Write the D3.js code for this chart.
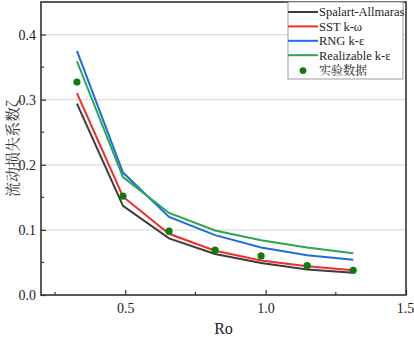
<!DOCTYPE html>
<html>
<head>
<meta charset="utf-8">
<script src="https://cdn.jsdelivr.net/npm/d3@7"></script>
<style>
  html, body { margin: 0; padding: 0; background: #fff; }
</style>
</head>
<body>
<div id="chart"></div>
<script>
// --- data ---
const ro = [0.328, 0.492, 0.656, 0.820, 0.984, 1.148, 1.312];
const spalart = [0.294, 0.137, 0.087, 0.063, 0.049, 0.039, 0.034];
const sst = [0.310, 0.151, 0.094, 0.068, 0.053, 0.044, 0.038];
const rng = [0.375, 0.188, 0.120, 0.092, 0.073, 0.061, 0.054];
const realizable = [0.359, 0.181, 0.126, 0.099, 0.084, 0.073, 0.064];
const experiment = [0.327, 0.152, 0.098, 0.069, 0.060, 0.045, 0.038];
const seriesNames = ["Spalart-Allmaras", "SST k-ω", "RNG k-ε", "Realizable k-ε"];
const expName = "实验数据";
const xTicks = [0.5, 1.0, 1.5];
const yTicks = [0.0, 0.1, 0.2, 0.3, 0.4];

const W = 414, H = 338;
const m = { left: 41, right: 8, top: 2, bottom: 43 };
const colors = ["#3c3c3c", "#f22b2b", "#1a6ee0", "#2aa64e"];
const dotColor = "#0b7d0b";
const SERIF = "'Liberation Serif', serif";
const CJK = "'Noto Serif CJK SC', 'Liberation Serif', serif";

const svg = d3.select("#chart").append("svg")
  .attr("width", W).attr("height", H);

const x = d3.scaleLinear().domain([0.2, 1.5]).range([m.left, W - m.right]);
const y = d3.scaleLinear().domain([0, 0.45]).range([H - m.bottom, m.top]);

// gridlines
svg.append("g")
  .selectAll("line")
  .data(yTicks.filter(d => d > 0))
  .join("line")
    .attr("x1", x(0.2)).attr("x2", x(1.5))
    .attr("y1", d => y(d)).attr("y2", d => y(d))
    .attr("stroke", "#dcdcdc").attr("stroke-width", 1.2);

// axes (inward ticks)
const xAxis = svg.append("g")
  .attr("transform", `translate(0,${y(0)})`)
  .call(d3.axisBottom(x).tickValues(xTicks).tickFormat(d3.format(".1f")).tickSize(-5).tickPadding(8));
xAxis.append("g").selectAll("line")
  .data([0.25, 0.75, 1.25])
  .join("line")
    .attr("x1", d => x(d)).attr("x2", d => x(d))
    .attr("y1", 0).attr("y2", -3)
    .attr("stroke", "#333").attr("stroke-width", 1.2);

const yAxis = svg.append("g")
  .attr("transform", `translate(${x(0.2)},0)`)
  .call(d3.axisLeft(y).tickValues(yTicks).tickFormat(d3.format(".1f")).tickSize(-5).tickPadding(5));
yAxis.append("g").selectAll("line")
  .data([0.05, 0.15, 0.25, 0.35])
  .join("line")
    .attr("x1", 0).attr("x2", 3)
    .attr("y1", d => y(d)).attr("y2", d => y(d))
    .attr("stroke", "#333").attr("stroke-width", 1.2);

[xAxis, yAxis].forEach(a => {
  a.attr("font-family", SERIF).attr("font-size", 14);
  a.select(".domain").remove();
  a.selectAll(".tick line").attr("stroke", "#333").attr("stroke-width", 1.2);
  a.selectAll(".tick text")
    .attr("fill", "#222")
    .style("font-size", "14px")
    .style("font-family", SERIF);
});
xAxis.selectAll(".tick text").filter(d => d === 1.5).attr("dx", "-1");

// frame
svg.append("rect")
  .attr("x", x(0.2)).attr("y", y(0.45))
  .attr("width", x(1.5) - x(0.2)).attr("height", y(0) - y(0.45))
  .attr("fill", "none").attr("stroke", "#333").attr("stroke-width", 1.6);

// lines
const line = d3.line().x((d, i) => x(ro[i])).y(d => y(d));
[spalart, sst, rng, realizable].forEach((s, k) => {
  svg.append("path")
    .datum(s)
    .attr("d", line)
    .attr("fill", "none")
    .attr("stroke", colors[k])
    .attr("stroke-width", 2);
});

// experiment dots
svg.append("g").selectAll("circle")
  .data(experiment)
  .join("circle")
    .attr("cx", (d, i) => x(ro[i]))
    .attr("cy", d => y(d))
    .attr("r", 3.6)
    .attr("fill", dotColor);

// axis titles
svg.append("text")
  .attr("x", (x(0.2) + x(1.5)) / 2).attr("y", 334)
  .attr("text-anchor", "middle")
  .style("font-size", "16px")
  .style("font-family", SERIF)
  .attr("fill", "#222")
  .text("Ro");

svg.append("text")
  .attr("transform", `translate(18,${(y(0) + y(0.45)) / 2}) rotate(-90)`)
  .attr("text-anchor", "middle")
  .style("font-size", "15px")
  .style("font-family", CJK)
  .attr("fill", "#333")
  .text("流动损失系数ζ");

// legend
const lg = svg.append("g").attr("transform", "translate(288,2)");
lg.append("rect")
  .attr("width", 115).attr("height", 77)
  .attr("fill", "#fff").attr("stroke", "#999").attr("stroke-width", 1);
const entries = seriesNames.map((n, i) => ({ name: n, color: colors[i], dot: false }))
  .concat([{ name: expName, color: dotColor, dot: true }]);
entries.forEach((e, i) => {
  const cy = 10 + i * 14.4 + (e.dot ? 1 : 0);
  if (e.dot) {
    lg.append("circle").attr("cx", 15).attr("cy", cy).attr("r", 3.4).attr("fill", e.color);
  } else {
    lg.append("line").attr("x1", 0).attr("x2", 30).attr("y1", cy).attr("y2", cy)
      .attr("stroke", e.color).attr("stroke-width", 2);
  }
  lg.append("text")
    .attr("x", 31).attr("y", cy + 4.3)
    .style("font-size", e.dot ? "12px" : "12.5px")
    .style("font-family", e.dot ? CJK : SERIF)
    .attr("fill", "#222")
    .text(e.name);
});
</script>
</body>
</html>
